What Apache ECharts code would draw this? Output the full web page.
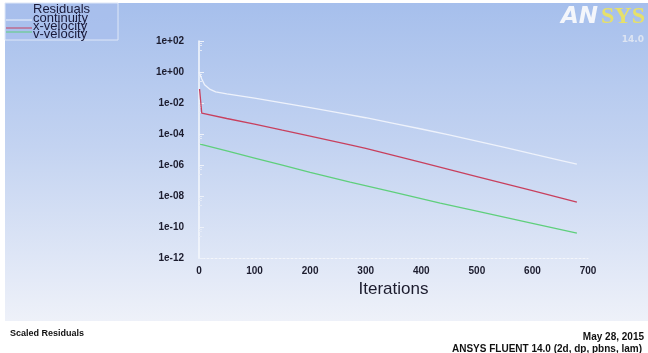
<!DOCTYPE html>
<html>
<head>
<meta charset="utf-8">
<script src="https://cdn.jsdelivr.net/npm/echarts@6/dist/echarts.min.js"></script>
<style>
  html, body { margin: 0; padding: 0; background: #fff; }
  #wrap { position: relative; width: 648px; height: 353px; overflow: hidden; }
  #bg { position: absolute; left: 5px; top: 3px; width: 643px; height: 318px;
        background: linear-gradient(to bottom, #a6bfec 0%, #c3d3f1 45%, #eef1f9 100%); }
  #chart { position: absolute; left: 0; top: 0; width: 648px; height: 353px; }
</style>
</head>
<body>
<div id="wrap">
  <div id="bg"></div>
  <div id="chart"></div>
</div>
<script>
  // iteration / residual readings taken off the plot
  const contIter = [0, 2, 5, 10, 20, 30, 50, 100, 150, 200, 250, 300, 350, 400, 450, 500, 550, 600, 650, 680];
  const contVals = [1, 0.8, 0.35, 0.15, 0.075, 0.052, 0.039, 0.0204, 0.0102, 0.005, 0.0024, 0.00112, 0.00049, 0.00021, 0.000089, 0.000035, 0.0000138, 0.0000052, 0.000002, 0.00000112];

  const xvelIter = [1, 5, 50, 100, 150, 200, 272, 300, 400, 500, 600, 680];
  const xvelVals = [0.08, 0.0022, 0.001, 0.00043, 0.000175, 0.000074, 0.00002, 0.0000117, 0.0000015, 1.8e-7, 2.2e-8, 4e-9];

  const vvelIter = [2, 50, 100, 150, 200, 272, 350, 434, 500, 600, 680];
  const vvelVals = [2.2e-5, 8.1e-6, 2.8e-6, 9.8e-7, 3.4e-7, 7.9e-8, 1.8e-8, 3.5e-9, 1.07e-9, 1.7e-10, 4e-11];

  const seriesNames = ['continuity', 'x-velocity', 'v-velocity'];
  const seriesColors = ['#eef2fb', '#c8405e', '#5fcf7c'];

  function pairs(xs, ys) {
    return xs.map((x, i) => [x, ys[i]]);
  }

  function logLabel(v) {
    const e = Math.round(Math.log10(v));
    const sign = e < 0 ? '-' : '+';
    const a = Math.abs(e);
    return '1e' + sign + (a < 10 ? '0' + a : '' + a);
  }

  const chart = echarts.init(document.getElementById('chart'));
  const textColor = '#1c1c2e';

  chart.setOption({
    backgroundColor: 'transparent',
    animation: false,
    grid: { left: 199, right: 60, top: 41, bottom: 95 },
    xAxis: {
      type: 'value',
      min: 0,
      max: 700,
      interval: 100,
      name: 'Iterations',
      nameLocation: 'middle',
      nameGap: 22,
      nameTextStyle: { fontFamily: 'Liberation Sans', fontSize: 17, color: textColor },
      axisLine: { show: true, lineStyle: { color: '#f4f6fb', width: 1, type: [2, 2] } },
      axisTick: { show: false },
      splitLine: { show: false },
      axisLabel: { fontFamily: 'Liberation Sans', fontSize: 10, fontWeight: 'bold', color: textColor, margin: 8 }
    },
    yAxis: {
      type: 'log',
      logBase: 10,
      min: 1e-12,
      max: 1e2,
      interval: 2,
      axisLine: { show: true, lineStyle: { color: '#f6f8fd', width: 1.5 } },
      axisTick: { show: true, inside: true, length: 5, lineStyle: { color: '#eef2fa' } },
      minorTick: { show: true, splitNumber: 4, length: 3, lineStyle: { color: '#e4eaf7' } },
      splitLine: { show: false },
      axisLabel: {
        fontFamily: 'Liberation Sans', fontSize: 10, fontWeight: 'bold', color: textColor, margin: 15,
        formatter: logLabel
      }
    },
    graphic: [
      { type: 'rect', shape: { x: 5, y: 3, width: 113, height: 37 }, style: { fill: 'rgba(168,190,236,0.6)', stroke: '#dfe7f7', lineWidth: 1 } },
      { type: 'line', shape: { x1: 6, y1: 20, x2: 32, y2: 20 }, style: { stroke: seriesColors[0], lineWidth: 1 } },
      { type: 'line', shape: { x1: 6, y1: 28, x2: 32, y2: 28 }, style: { stroke: seriesColors[1], lineWidth: 1 } },
      { type: 'line', shape: { x1: 6, y1: 32, x2: 32, y2: 32 }, style: { stroke: seriesColors[2], lineWidth: 1 } },
      { type: 'text', left: 33, top: 3, style: { text: 'Residuals', font: '13px "Liberation Sans"', fill: '#1a1a3a' } },
      { type: 'text', left: 33, top: 12, style: { text: seriesNames[0], font: '13px "Liberation Sans"', fill: '#1a1a3a' } },
      { type: 'text', left: 33, top: 20, style: { text: seriesNames[1], font: '13px "Liberation Sans"', fill: '#1a1a3a' } },
      { type: 'text', left: 33, top: 28, style: { text: seriesNames[2], font: '13px "Liberation Sans"', fill: '#1a1a3a' } },
      // logo
      { type: 'text', left: 561, top: 6, style: { text: 'AN', font: 'italic bold 23px "DejaVu Sans"', fill: '#f4f6fb' } },
      { type: 'text', right: 3, top: 5, style: { text: 'SYS', font: 'bold 24px "Liberation Serif"', fill: '#e6e06a' } },
      { type: 'text', right: 4, top: 35, style: { text: '14.0', font: 'bold 9px "DejaVu Sans"', fill: '#dde4f2' } },
      // footer
      { type: 'text', left: 10, top: 329, style: { text: 'Scaled Residuals', font: 'bold 9px "Liberation Sans"', fill: '#111' } },
      { type: 'text', right: 4, top: 332, style: { text: 'May 28, 2015', font: 'bold 10px "Liberation Sans"', fill: '#111', align: 'right' } },
      { type: 'text', right: 6, top: 344, style: { text: 'ANSYS FLUENT 14.0 (2d, dp, pbns, lam)', font: 'bold 10px "Liberation Sans"', fill: '#111', align: 'right' } }
    ],
    series: [
      { name: seriesNames[0], type: 'line', data: pairs(contIter, contVals), showSymbol: false, smooth: false,
        lineStyle: { color: seriesColors[0], width: 1.3 } },
      { name: seriesNames[1], type: 'line', data: pairs(xvelIter, xvelVals), showSymbol: false, smooth: false,
        lineStyle: { color: seriesColors[1], width: 1.3 } },
      { name: seriesNames[2], type: 'line', data: pairs(vvelIter, vvelVals), showSymbol: false, smooth: false,
        lineStyle: { color: seriesColors[2], width: 1.3 } }
    ]
  });
</script>
</body>
</html>
